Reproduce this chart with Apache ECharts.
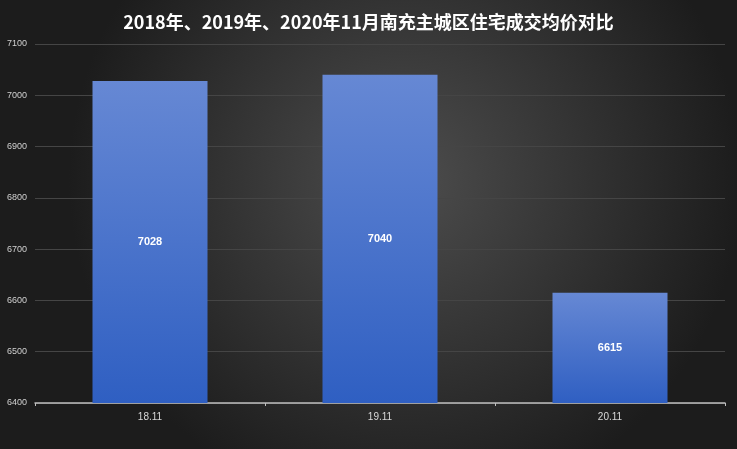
<!DOCTYPE html>
<html>
<head>
<meta charset="utf-8">
<script src="https://cdn.jsdelivr.net/npm/echarts@6/dist/echarts.min.js"></script>
<style>
html,body{margin:0;padding:0;}
#charts{width:737px;height:449px;}
</style>
</head>
<body>
<div id="charts"></div>
<script>
var categories = ['18.11', '19.11', '20.11'];
var prices = [7028, 7040, 6615];
var yTicks = [6400, 6500, 6600, 6700, 6800, 6900, 7000, 7100];

var myChart = echarts.init(document.getElementById('charts'));
var option = {
    backgroundColor: {
        type: 'radial', x: 0.55, y: 0.4, r: 0.75,
        colorStops: [
            {offset: 0, color: '#4d4d4d'},
            {offset: 1, color: '#1c1c1c'}
        ]
    },
    title: {
        text: '2018年、2019年、2020年11月南充主城区住宅成交均价对比',
        left: 'center',
        top: 8,
        textStyle: {
            color: '#ffffff',
            fontSize: 18,
            fontWeight: 'bold',
            fontFamily: 'Noto Sans CJK SC'
        }
    },
    grid: {
        left: 35,
        right: 12,
        top: 44,
        bottom: 46
    },
    xAxis: {
        type: 'category',
        data: categories,
        axisLine: {lineStyle: {color: '#bfbfbf', width: 1.5}},
        axisTick: {show: true, length: 3, lineStyle: {color: '#bfbfbf'}},
        axisLabel: {color: '#d9d9d9', fontSize: 10, margin: 9}
    },
    yAxis: {
        type: 'value',
        min: yTicks[0],
        max: yTicks[yTicks.length - 1],
        interval: 100,
        axisLine: {show: false},
        axisTick: {show: false},
        axisLabel: {
            color: '#d0d0d0',
            fontSize: 9,
            margin: 8,
            formatter: function (v) { return String(v); }
        },
        splitLine: {lineStyle: {color: '#454545', width: 1}}
    },
    series: [
        {
            type: 'bar',
            data: prices,
            barWidth: '50%',
            itemStyle: {
                color: {
                    type: 'linear', x: 0, y: 0, x2: 0, y2: 1,
                    colorStops: [
                        {offset: 0, color: '#6688d4'},
                        {offset: 1, color: '#2f5fc2'}
                    ]
                }
            },
            label: {
                show: true,
                position: 'inside',
                color: '#ffffff',
                fontWeight: 'bold',
                fontSize: 11
            }
        }
    ]
};
myChart.setOption(option);
</script>
</body>
</html>
